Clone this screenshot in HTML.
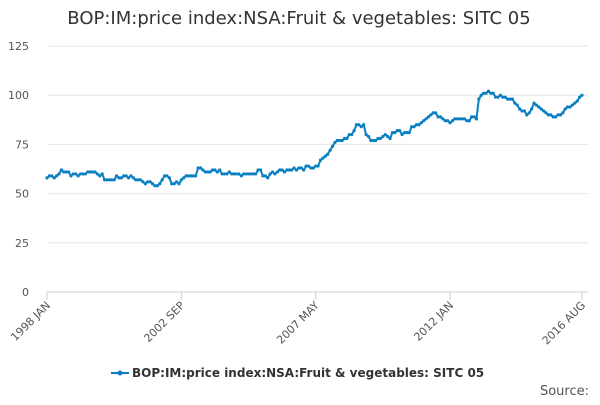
<!DOCTYPE html>
<html><head><meta charset="utf-8"><style>
body{margin:0;background:#fff;font-family:"Liberation Sans","DejaVu Sans",sans-serif}
svg text{font-family:"DejaVu Sans","Liberation Sans",sans-serif}
</style></head><body>
<svg id="c" width="600" height="400" viewBox="0 0 600 400">
<text x="299" y="24" text-anchor="middle" font-size="18" fill="#333">BOP:IM:price index:NSA:Fruit &amp; vegetables: SITC 05</text>
<g id="grid"></g><g id="xaxis"></g><g id="series"></g>
<g>
<line x1="111" y1="373" x2="129" y2="373" stroke="#0a7fc2" stroke-width="2"/>
<circle cx="120" cy="373" r="2.5" fill="#0a7fc2"/>
<text x="132" y="377" font-size="12" font-weight="bold" fill="#333">BOP:IM:price index:NSA:Fruit &amp; vegetables: SITC 05</text>
</g>
<text x="589" y="395" text-anchor="end" font-size="13" fill="#555">Source:</text>
</svg>
<script>
const yTicks=[0,25,50,75,100,125];
const xTickLabels=["1998 JAN","2002 SEP","2007 MAY","2012 JAN","2016 AUG"];
const xTickIdx=[0,56,112,168,223];
const values=[
58,59,59,58,59,60,62,61,61,61,59,60,
60,59,60,60,60,61,61,61,61,60,59,60,
57,57,57,57,57,59,58,58,59,59,58,59,
58,57,57,57,56,55,56,56,55,54,54,55,
57,59,59,58,55,55,56,55,57,58,59,59,
59,59,59,63,63,62,61,61,61,62,62,61,
62,60,60,60,61,60,60,60,60,59,60,60,
60,60,60,60,62,62,59,59,58,60,61,60,
61,62,62,61,62,62,62,63,62,63,63,62,
64,64,63,63,64,64,67,68,69,70,72,74,
76,77,77,77,78,78,80,80,82,85,85,84,
85,80,79,77,77,77,78,78,79,80,79,78,
81,81,82,82,80,81,81,81,84,84,85,85,
86,87,88,89,90,91,91,89,89,88,87,87,
86,87,88,88,88,88,88,87,87,89,89,88,
98,100,101,101,102,101,101,99,99,100,99,99,
98,98,98,96,95,93,92,92,90,91,93,96,
95,94,93,92,91,90,90,89,89,90,90,91,
93,94,94,95,96,97,99,100];
const NS="http://www.w3.org/2000/svg";
const X0=47,X1=582,Y0=292,Y1=46;
const xs=i=>X0+(X1-X0)*i/(values.length-1);
const ys=v=>Y0-(Y0-Y1)*v/125;
function mk(t,a,p){const e=document.createElementNS(NS,t);for(const k in a)e.setAttribute(k,a[k]);p.appendChild(e);return e;}
const grid=document.getElementById('grid');
yTicks.forEach(v=>{
 const l=mk('line',{x1:X0,x2:X1+6,y1:ys(v),y2:ys(v),stroke:v===0?'#ccc':'#e6e6e6','stroke-width':1},grid);
 
 
 const t=mk('text',{x:29,y:ys(v)+4,'text-anchor':'end','font-size':11,fill:'#555'},grid);
 t.textContent=v;
 
 
});
const xa=document.getElementById('xaxis');
xTickIdx.forEach((ix,k)=>{
 const x=xs(ix);
 const tk=mk('line',{x1:x,x2:x,y1:Y0,y2:Y0+8,stroke:'#ccc'},xa);
 
 
 const t=mk('text',{x:x+4,y:Y0+14,'text-anchor':'end','font-size':11,fill:'#555',transform:`rotate(-45 ${x+4} ${Y0+14})`},xa);
 t.textContent=xTickLabels[k];
 
 
});
const s=document.getElementById('series');
const pl=mk('polyline',{points:values.map((v,i)=>xs(i)+','+ys(v)).join(' '),fill:'none',stroke:'#0a7fc2','stroke-width':2},s);


values.forEach((v,i)=>{
 const c=mk('circle',{cx:xs(i),cy:ys(v),r:1.6,fill:'#0a7fc2'},s);
 
 
});
</script>
</body></html>
